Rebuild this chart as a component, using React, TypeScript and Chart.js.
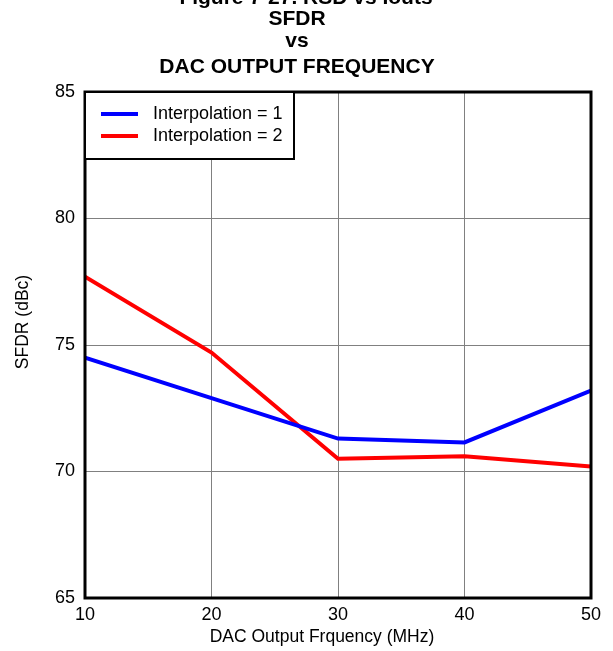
import React, { useEffect, useRef } from "react";
import { Chart, registerables } from "chart.js";

Chart.register(...registerables);

const frequencies = [10, 20, 30, 40, 50];
const interp1 = [74.5, 72.9, 71.3, 71.15, 73.2];
const interp2 = [77.7, 74.7, 70.5, 70.6, 70.2];
const seriesLabels = ["Interpolation = 1", "Interpolation = 2"];
const seriesColors = ["#0000ff", "#ff0000"];
const titleLines = ["Figure 7-27. RSD vs Iouts", "SFDR", "vs", "DAC OUTPUT FREQUENCY"];
const xTitle = "DAC Output Frquency (MHz)";
const yTitle = "SFDR (dBc)";

const FONT = '"Liberation Sans", Arial, sans-serif';

const decorPlugin = {
  id: "decor",
  afterDraw(chart: any) {
    const ctx = chart.ctx;
    const a = chart.chartArea;
    ctx.save();
    // plot border
    ctx.strokeStyle = "#000";
    ctx.lineWidth = 3;
    ctx.strokeRect(a.left, a.top, a.right - a.left, a.bottom - a.top);

    // titles
    ctx.fillStyle = "#000";
    ctx.textAlign = "center";
    ctx.textBaseline = "alphabetic";
    ctx.font = `bold 21px ${FONT}`;
    ctx.fillText(titleLines[0], 306, 4);
    ctx.fillText(titleLines[1], 297, 25);
    ctx.fillText(titleLines[2], 297, 47);
    ctx.fillText(titleLines[3], 297, 73);

    // axis titles
    ctx.font = `17.5px ${FONT}`;
    ctx.textBaseline = "middle";
    ctx.fillText(xTitle, 322, 637);
    ctx.save();
    ctx.translate(23, 322);
    ctx.rotate(-Math.PI / 2);
    ctx.fillText(yTitle, 0, 0);
    ctx.restore();

    // legend
    const lx = a.left, ly = a.top;
    ctx.fillStyle = "#fff";
    ctx.fillRect(lx, ly, 209, 67);
    ctx.strokeStyle = "#000";
    ctx.lineWidth = 2;
    ctx.strokeRect(lx, ly, 209, 67);
    ctx.font = `18px ${FONT}`;
    ctx.textAlign = "left";
    chart.data.datasets.forEach((ds: any, i: number) => {
      const y = ly + 22 + i * 22;
      ctx.strokeStyle = ds.borderColor;
      ctx.lineWidth = 4;
      ctx.beginPath();
      ctx.moveTo(lx + 16, y);
      ctx.lineTo(lx + 53, y);
      ctx.stroke();
      ctx.fillStyle = "#000";
      ctx.fillText(ds.label, lx + 68, y);
    });
    ctx.restore();
  },
};

export default function App() {
  const ref = useRef<HTMLCanvasElement | null>(null);
  useEffect(() => {
    document.body.style.margin = "0";
    const canvas = ref.current!;
    const chart = new Chart(canvas, {
      type: "line",
      data: {
        labels: frequencies,
        datasets: [
          {
            label: seriesLabels[0],
            data: frequencies.map((x, i) => ({ x, y: interp1[i] })),
            borderColor: seriesColors[0],
            backgroundColor: seriesColors[0],
            borderWidth: 4,
            pointRadius: 0,
            tension: 0,
          },
          {
            label: seriesLabels[1],
            data: frequencies.map((x, i) => ({ x, y: interp2[i] })),
            borderColor: seriesColors[1],
            backgroundColor: seriesColors[1],
            borderWidth: 4,
            pointRadius: 0,
            tension: 0,
          },
        ],
      },
      options: {
        responsive: false,
        animation: false,
        layout: { padding: { top: 92, right: 22, left: 0, bottom: 0 } },
        plugins: {
          legend: { display: false },
          title: { display: false },
          tooltip: { enabled: false },
        },
        scales: {
          x: {
            type: "linear",
            min: 10,
            max: 50,
            ticks: { stepSize: 10, color: "#000", font: { family: FONT, size: 18 }, padding: 6, maxRotation: 0 },
            grid: { color: "#808080", lineWidth: 1, drawTicks: false },
            border: { display: false },
            afterFit: (s: any) => { s.height = 53; },
          },
          y: {
            type: "linear",
            min: 65,
            max: 85,
            ticks: { stepSize: 5, color: "#000", font: { family: FONT, size: 18 }, padding: 10 },
            grid: { color: "#808080", lineWidth: 1, drawTicks: false },
            border: { display: false },
            afterFit: (s: any) => { s.width = 85; },
          },
        },
      },
      plugins: [decorPlugin],
    } as any);
    return () => chart.destroy();
  }, []);
  return <canvas ref={ref} width={613} height={651} style={{ display: "block" }} />;
}
